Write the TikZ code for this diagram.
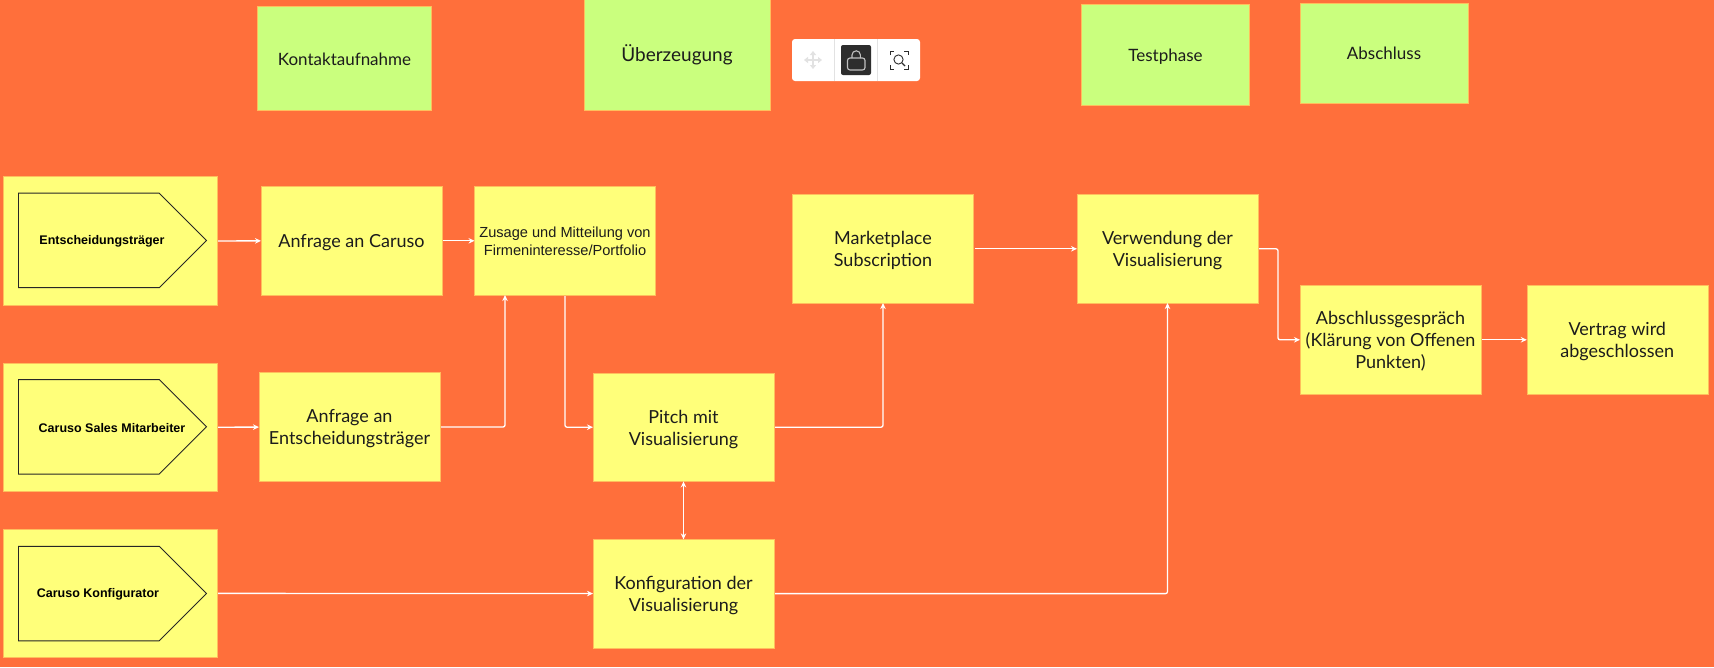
\documentclass[tikz,border=0pt]{standalone}
\usepackage{fontspec}
\setmainfont{Lato}
\newfontfamily\arialfont{Liberation Sans}
\usetikzlibrary{arrows.meta,shapes.symbols}
\definecolor{bgorange}{HTML}{FF6F3B}
\definecolor{noteyellow}{HTML}{FFFF7A}
\definecolor{notegreen}{HTML}{CAFF7E}
\definecolor{noteedge}{HTML}{FFBE5C}
\definecolor{btndark}{HTML}{2D2D2D}
\definecolor{btnline}{HTML}{E2E2E2}
\definecolor{inktext}{HTML}{1C1C1C}
\newcommand{\notestrut}{\rule{0pt}{.93\baselineskip}}
\tikzset{
  note/.style={fill=noteyellow,draw=noteedge,line width=0.6pt,inner sep=0pt,outer sep=0pt,text=inktext,align=center,font=\fontsize{18}{22}\selectfont,execute at begin node=\notestrut,execute at end node=\strut},
  stepnote/.style={note,align=flush center,text width=180pt,minimum width=181pt,minimum height=108.5pt},
  actornote/.style={note,minimum width=214pt,minimum height=128.5pt},
  phasenote/.style={note,fill=notegreen,font=\fontsize{17}{20}\selectfont},
  actorshape/.style={shape=signal,signal to=east,signal pointer angle=90,draw=black!85,line width=0.9pt,fill=noteyellow,minimum width=188pt,minimum height=94.5pt,inner sep=0pt,outer sep=0pt,anchor=west},
  actortext/.style={font=\arialfont\bfseries\fontsize{12.5}{14}\selectfont,text=black,inner sep=0pt},
  link/.style={draw=white,line width=1.3pt,rounded corners=2pt,shorten <=1pt,-{Stealth[length=6pt,width=5.5pt]}}
}
\begin{document}
\begin{tikzpicture}[x=1pt,y=-1pt]
\useasboundingbox[fill=bgorange] (0,0) rectangle (1714,667);

\node[phasenote,minimum width=174pt,minimum height=104pt] (kontakt) at (344.5,58.5) {};
\node[inner sep=0pt,text=inktext,font=\fontsize{17}{20}\selectfont] (kontakttext) at (344.5,59) {Kontaktaufnahme};
\node[phasenote,minimum width=186pt,minimum height=112pt] (ueberz) at (677,54.5) {};
\node[inner sep=0pt,text=inktext,font=\fontsize{19}{20}\selectfont] (ueberztext) at (677,55) {Überzeugung};
\node[phasenote,minimum width=168.5pt,minimum height=100.5pt] (test) at (1165.5,54.8) {Testphase};
\node[phasenote,minimum width=168pt,minimum height=100.5pt] (abschluss) at (1384,53.3) {Abschluss};

\fill[white,rounded corners=3pt] (792,39) rectangle (920,81);
\draw[btnline,line width=0.8pt] (834.5,39)--(834.5,81);
\draw[btnline,line width=0.8pt] (877.7,39)--(877.7,81);
\draw[btnline,line width=2.2pt,{Triangle[length=4pt,width=6pt]}-{Triangle[length=4pt,width=6pt]}] (804,60)--(822,60);
\draw[btnline,line width=2.2pt,{Triangle[length=4pt,width=6pt]}-{Triangle[length=4pt,width=6pt]}] (813,51)--(813,69);
\fill[btndark,rounded corners=2pt] (841,45) rectangle (871,75);
\draw[btnline!85!black,line width=1.1pt,rounded corners=2.5pt] (847.5,58) rectangle (865,70);
\draw[btnline!85!black,line width=1.1pt] (852,58)--(852,55) arc (180:360:4.2)--(860.4,58);
\draw[btndark,line width=0.9pt] (890,55)--(890,51)--(894,51);
\draw[btndark,line width=0.9pt] (904,51)--(908,51)--(908,55);
\draw[btndark,line width=0.9pt] (890,65)--(890,69)--(894,69);
\draw[btndark,line width=0.9pt] (904,69)--(908,69)--(908,65);
\draw[btndark,line width=0.9pt] (898.5,59.5) circle (4.6);
\draw[btndark,line width=1.4pt] (902,63)--(905,66);

\node[actornote] (entbox) at (110,241) {};
\node[actorshape] (entshape) at (18.5,240.4) {};
\node[actortext] (enttext) at (102,241) {Entscheidungsträger};
\node[actornote] (salesbox) at (110,427.3) {};
\node[actorshape] (salesshape) at (18.5,426.8) {};
\node[actortext] (salestext) at (112,428) {Caruso Sales Mitarbeiter};
\node[actornote] (konfbox) at (110,593.3) {};
\node[actorshape] (konfshape) at (18.5,593.6) {};
\node[actortext] (konftext) at (98,594) {Caruso Konfigurator};

\node[stepnote] (anfcaruso) at (351.5,240.8) {Anfrage an Caruso};
\node[stepnote] (anfent) at (349.5,427) {Anfrage an\\Entscheidungsträger};
\node[stepnote,font=\arialfont\fontsize{14.6}{18}\selectfont] (zusage) at (565,240.8) {Zusage und Mitteilung von\\Firmeninteresse/Portfolio};
\node[stepnote] (pitch) at (683.5,427.2) {Pitch mit\\Visualisierung};
\node[stepnote] (konfig) at (683.5,593.6) {Konfiguration der\\Visualisierung};
\node[stepnote] (market) at (883,248.8) {Marketplace\\Subscription};
\node[stepnote] (verwend) at (1167.5,248.8) {Verwendung der\\Visualisierung};
\node[stepnote] (gespraech) at (1390.5,339.8) {Abschlussgespräch\\(Klärung von Offenen\\Punkten)};
\node[stepnote] (vertrag) at (1617.3,339.8) {Vertrag wird\\abgeschlossen};

\draw[link] (entbox)--(anfcaruso);
\draw[link] (anfcaruso)--(zusage);
\draw[link] (salesbox)--(anfent);
\draw[link] (anfent) -| ([xshift=-60pt]zusage.south);
\draw[link] (zusage.south) |- (pitch.west);
\draw[link] (pitch) -| (market);
\draw[link] (market)--(verwend);
\draw[link,{Stealth[length=6pt,width=5.5pt]}-{Stealth[length=6pt,width=5.5pt]},shorten <=0pt] (pitch)--(konfig);
\draw[link] (konfbox)--(konfig);
\draw[link] (konfig) -| (verwend);
\draw[link] (verwend.east) -- ++(20,0) |- (gespraech.west);
\draw[link] (gespraech)--(vertrag);
\end{tikzpicture}
\end{document}
